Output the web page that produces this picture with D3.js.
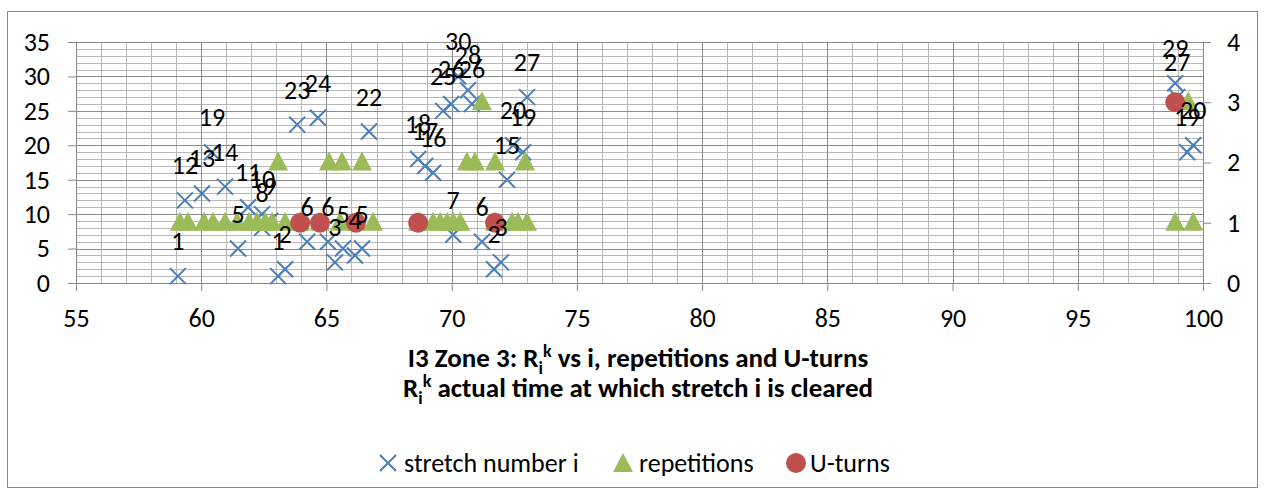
<!DOCTYPE html>
<html><head><meta charset="utf-8">
<script src="https://cdn.jsdelivr.net/npm/d3@7"></script>
<style>
body{margin:0;background:#fff}
text{font-family:Carlito,Calibri,Lato,sans-serif;fill:#000}
</style>
</head><body>
<svg id="c" width="1264" height="496"></svg>
<script>
// ---- data ----
const stretchX=[59.07,59.35,60.03,60.43,60.95,61.47,61.87,62.43,62.75,62.43,63.07,63.35,63.83,64.66,64.23,65.06,65.34,65.66,66.14,66.42,66.70,68.66,68.94,69.26,69.66,69.98,70.26,70.65,70.81,70.06,71.21,71.69,71.97,72.21,72.45,72.85,73.01,98.89,98.97,99.37,99.61];
const stretchY=[1,12,13,19,14,5,11,10,9,8,1,2,23,24,6,6,3,5,4,5,22,18,17,16,25,26,30,28,26,7,6,2,3,15,20,19,27,29,27,19,20];
const repX=[59.15,59.47,60.11,60.47,60.95,61.43,61.91,62.23,62.55,62.83,63.35,63.95,64.74,65.54,66.18,66.86,68.66,69.26,69.54,69.82,70.06,70.34,71.73,72.41,72.65,73.01,98.89,99.61,63.07,65.10,65.62,66.42,70.61,70.93,71.73,72.93,71.21,99.41];
const repY=[1,1,1,1,1,1,1,1,1,1,1,1,1,1,1,1,1,1,1,1,1,1,1,1,1,1,1,1,2,2,2,2,2,2,2,2,3,3];
const uturnX=[63.95,64.74,66.18,68.66,71.73,98.89];
const uturnY=[1,1,1,1,1,3];
const xTicks=[55,60,65,70,75,80,85,90,95,100];
const yLeftTicks=[0,5,10,15,20,25,30,35];
const yRightTicks=[0,1,2,3,4];
const seriesNames=["stretch number i","repetitions","U-turns"];

// ---- styles ----
const C={blue:"#4A7EBB",green:"#9BBB59",red:"#C0504D",axis:"#868686",minor:"#b8b8b8",major:"#8a8a8a"};
const FS=26, TFS=27, SFS=18;

const svg=d3.select("#c");
const P={l:76,r:1203,t:42,b:283};
const x=d3.scaleLinear().domain([55,100]).range([P.l,P.r]);
const yL=d3.scaleLinear().domain([0,35]).range([P.b,P.t]);
const yR=d3.scaleLinear().domain([0,4]).range([P.b,P.t]);

// outer border
svg.append("rect").attr("x",7.5).attr("y",11.5).attr("width",1250).attr("height",476)
  .attr("fill","#fff").attr("stroke",C.axis).attr("stroke-width",1);

// gridlines
const g=svg.append("g");
const hMinor=d3.range(1,35).filter(v=>v%5!==0);
const vMinor=d3.range(56,100).filter(v=>v%5!==0);
g.selectAll(".hm").data(hMinor).join("line").attr("x1",P.l).attr("x2",P.r)
  .attr("y1",d=>Math.round(yL(d))+0.5).attr("y2",d=>Math.round(yL(d))+0.5).attr("stroke",C.minor);
g.selectAll(".vm").data(vMinor).join("line").attr("y1",P.t).attr("y2",P.b)
  .attr("x1",d=>Math.round(x(d))+0.5).attr("x2",d=>Math.round(x(d))+0.5).attr("stroke",C.minor);
g.selectAll(".hM").data(yLeftTicks.slice(1)).join("line").attr("x1",P.l).attr("x2",P.r)
  .attr("y1",d=>Math.round(yL(d))+0.5).attr("y2",d=>Math.round(yL(d))+0.5).attr("stroke",C.major);
g.selectAll(".vM").data(xTicks.slice(1,-1)).join("line").attr("y1",P.t).attr("y2",P.b)
  .attr("x1",d=>Math.round(x(d))+0.5).attr("x2",d=>Math.round(x(d))+0.5).attr("stroke",C.major);

// axes
function styleAxis(sel){
  sel.selectAll("path.domain").attr("stroke",C.axis);
  sel.selectAll(".tick line").attr("stroke",C.axis);
  sel.selectAll("text").attr("font-size",FS).attr("font-family",null).attr("fill","#000");
}
const ax=svg.append("g").attr("transform",`translate(0,${P.b})`)
  .call(d3.axisBottom(x).tickValues(xTicks).tickFormat(d3.format("d")).tickSize(8).tickSizeOuter(0));
styleAxis(ax); ax.selectAll("text").attr("dy",null).attr("y",44);
const ayL=svg.append("g").attr("transform",`translate(${P.l},0)`)
  .call(d3.axisLeft(yL).tickValues(yLeftTicks).tickFormat(d3.format("d")).tickSize(8).tickSizeOuter(0).tickPadding(18));
styleAxis(ayL);
const ayR=svg.append("g").attr("transform",`translate(${P.r},0)`)
  .call(d3.axisRight(yR).tickValues(yRightTicks).tickFormat(d3.format("d")).tickSize(8).tickSizeOuter(0).tickPadding(16));
styleAxis(ayR);

// stretch X markers
const S=8;
const sData=stretchX.map((v,i)=>({x:v,y:stretchY[i]}));
svg.append("g").selectAll("path").data(sData).join("path")
  .attr("transform",d=>`translate(${x(d.x)},${yL(d.y)})`)
  .attr("d",`M${-S},${-S}L${S},${S}M${-S},${S}L${S},${-S}`)
  .attr("stroke",C.blue).attr("stroke-width",2).attr("fill","none");

// repetitions triangles
const tri="M0,-11L10,8L-10,8Z";
const rData=repX.map((v,i)=>({x:v,y:repY[i]}));
svg.append("g").selectAll("path").data(rData).join("path")
  .attr("transform",d=>`translate(${x(d.x)},${yR(d.y)})`)
  .attr("d",tri).attr("fill",C.green);

// U-turn circles
const uData=uturnX.map((v,i)=>({x:v,y:uturnY[i]}));
svg.append("g").selectAll("circle").data(uData).join("circle")
  .attr("cx",d=>x(d.x)).attr("cy",d=>yR(d.y)).attr("r",10).attr("fill",C.red);

// data labels
svg.append("g").selectAll("text").data(sData).join("text")
  .attr("x",d=>x(d.x)).attr("y",d=>yL(d.y)-26)
  .attr("text-anchor","middle").attr("font-size",FS).text(d=>d.y);

// title
const t1=svg.append("text").attr("x",638).attr("y",367).attr("text-anchor","middle")
  .attr("font-size",TFS).attr("font-weight","bold");
t1.append("tspan").text("I3 Zone 3: R");
t1.append("tspan").attr("dy",7).attr("font-size",SFS).text("i");
t1.append("tspan").attr("dy",-17).attr("font-size",SFS).text("k");
t1.append("tspan").attr("dy",10).text(" vs i, repetitions and U-turns");
const t2=svg.append("text").attr("x",638).attr("y",397).attr("text-anchor","middle")
  .attr("font-size",TFS).attr("font-weight","bold");
t2.append("tspan").text("R");
t2.append("tspan").attr("dy",7).attr("font-size",SFS).text("i");
t2.append("tspan").attr("dy",-17).attr("font-size",SFS).text("k");
t2.append("tspan").attr("dy",10).text(" actual time at which stretch i is cleared");

// legend
const ly=463;
const lg=svg.append("g");
lg.append("path").attr("transform",`translate(388,${ly})`)
  .attr("d",`M${-S},${-S}L${S},${S}M${-S},${S}L${S},${-S}`).attr("stroke",C.blue).attr("stroke-width",2);
lg.append("text").attr("x",404).attr("y",ly+9).attr("font-size",FS).text(seriesNames[0]);
lg.append("path").attr("transform",`translate(623,${ly+1})`).attr("d",tri).attr("fill",C.green);
lg.append("text").attr("x",639).attr("y",ly+9).attr("font-size",FS).text(seriesNames[1]);
lg.append("circle").attr("cx",796).attr("cy",ly).attr("r",10).attr("fill",C.red);
lg.append("text").attr("x",810).attr("y",ly+9).attr("font-size",FS).text(seriesNames[2]);
</script>
</body></html>
